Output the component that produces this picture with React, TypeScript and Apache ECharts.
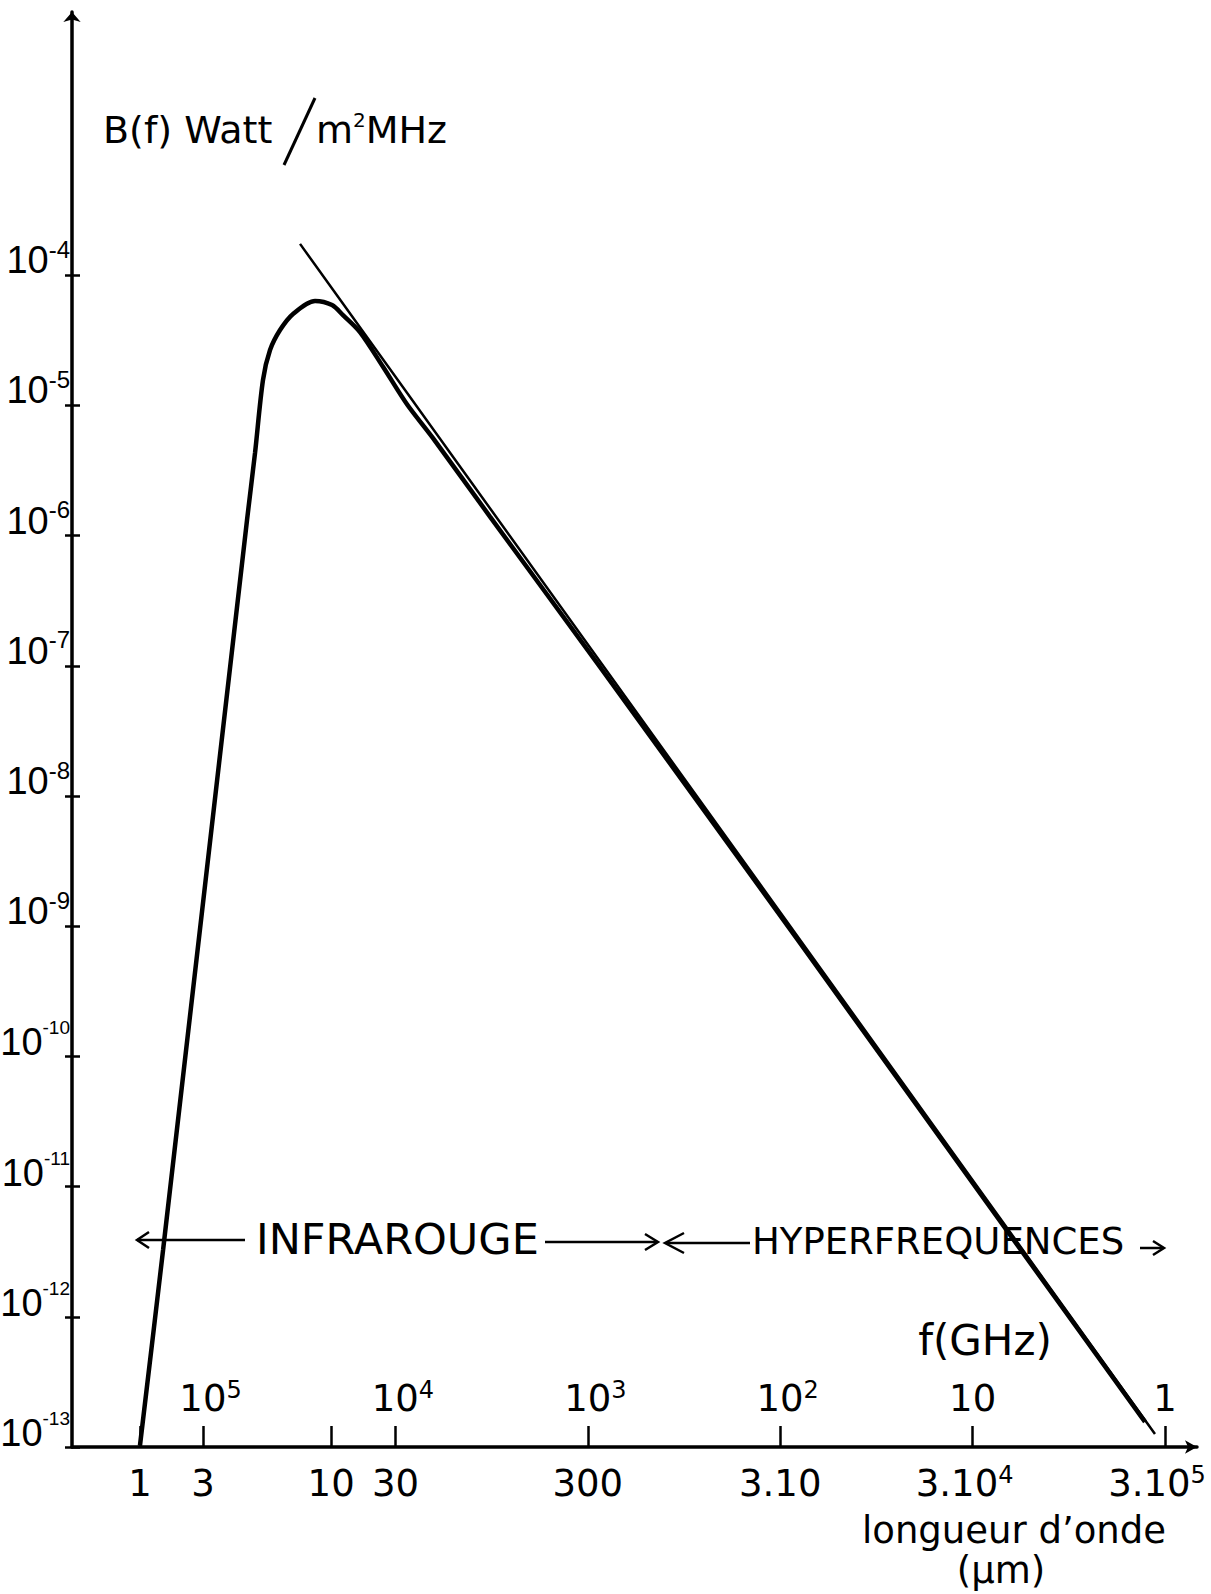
import React, { useEffect, useRef } from "react";
import * as echarts from "echarts";

// ---- data ----
// wavelength axis (µm): tick positions and their labels
const wavelengthTicks = [1.41, 3, 13.9, 30, 300, 3000, 30000, 300000];
const wavelengthLabels = ["1", "3", "10", "30", "300", "3.10", "3.10^4", "3.10^5"];
// frequency labels (GHz) written above the same axis
const freqTicks = [3, 30, 300, 3000, 30000, 300000];
const freqLabels = ["10^5", "10^4", "10^3", "10^2", "10", "1"];
// B(f) axis
const yTicks = [1e-13, 1e-12, 1e-11, 1e-10, 1e-9, 1e-8, 1e-7, 1e-6, 1e-5, 1e-4];
const yLabels = ["10^-13", "10^-12", "10^-11", "10^-10", "10^-9", "10^-8", "10^-7", "10^-6", "10^-5", "10^-4"];

// thick curve: spectrum B(f) versus wavelength
const spectrumLambda = [1.41, 1.86, 5.08, 5.59, 6.15, 6.69, 7.54, 8.81, 11.46, 14.05, 16.02, 19.63, 25.86, 34.45, 47.03, 93.0, 347, 3800, 41640, 236000];
const spectrumB = [1.02e-13, 3.26e-12, 1.32e-6, 4.31e-6, 1.57e-5, 2.66e-5, 3.79e-5, 5.04e-5, 6.34e-5, 5.9e-5, 4.94e-5, 3.66e-5, 1.98e-5, 1.02e-5, 5.6e-6, 1.4e-6, 9.8e-8, 7.43e-10, 5.44e-12, 1.56e-13];
// thin straight asymptote
const asymptoteLambda = [9.58, 35600, 266000];
const asymptoteB = [1.74e-4, 7.89e-12, 1.26e-13];

const FONT = "DejaVu Sans";
const YFONT = "Liberation Sans";

function findIndex(ticks: number[], v: number) {
  let best = 0;
  let bd = Infinity;
  ticks.forEach((t, i) => {
    const d = Math.abs(Math.log10(t) - Math.log10(v));
    if (d < bd) {
      bd = d;
      best = i;
    }
  });
  return best;
}

function toRich(label: string, main: string, sup: string) {
  const [a, b] = label.split("^");
  return b ? `{${main}|${a}}{${sup}|${b}}` : `{${main}|${a}}`;
}

export default function App() {
  const ref = useRef<HTMLDivElement>(null);

  useEffect(() => {
    document.body.style.margin = "0";
    if (!ref.current) return;
    const chart = echarts.init(ref.current, undefined, { renderer: "svg" });

    const black = "#000";
    const xRich = {
      b: { fontSize: 37, lineHeight: 40, fontFamily: FONT, color: black },
      bl: { fontSize: 37, lineHeight: 40, fontFamily: FONT, color: black, padding: [0, 0, 0, 15] },
      s: { fontSize: 24, lineHeight: 24, fontFamily: FONT, color: black, verticalAlign: "top" },
      sp: { fontSize: 24, lineHeight: 24, fontFamily: FONT, color: black, verticalAlign: "top", padding: [0, 16, 0, 0] },
    };
    const yRich = {
      b: { fontSize: 38, lineHeight: 38, fontFamily: YFONT, color: black, padding: [8, 0, 0, 0] },
      s: { fontSize: 24, lineHeight: 24, fontFamily: YFONT, color: black, verticalAlign: "top" },
      b2: { fontSize: 38, lineHeight: 38, fontFamily: YFONT, color: black, padding: [10, 0, 0, 0] },
      t: { fontSize: 19, lineHeight: 19, fontFamily: YFONT, color: black, verticalAlign: "top" },
    };

    const txt = (text: string, x: number, y: number, size: number, align = "left", extra: any = {}) => ({
      type: "text",
      x,
      y,
      style: {
        text,
        fill: black,
        fontSize: size,
        fontFamily: FONT,
        align,
        verticalAlign: "middle",
        textAlign: align,
        textVerticalAlign: "middle",
        ...extra,
      },
    });
    const ln = (x1: number, y1: number, x2: number, y2: number, w = 2.5) => ({
      type: "line",
      shape: { x1, y1, x2, y2 },
      style: { stroke: black, lineWidth: w },
    });
    const pl = (pts: number[][], w = 2.5) => ({
      type: "polyline",
      shape: { points: pts },
      style: { stroke: black, lineWidth: w, fill: null },
    });

    chart.setOption({
      animation: false,
      backgroundColor: "#fff",
      grid: { left: 72, right: 14, top: 12, bottom: 147, containLabel: false, outerBoundsMode: "none" },
      xAxis: [
        {
          type: "log",
          min: 0.6254,
          max: 439800,
          position: "bottom",
          axisLine: {
            show: true,
            onZero: false,
            lineStyle: { color: black, width: 3.5 },
            symbol: ["none", "arrow"],
            symbolSize: [10, 12],
          },
          axisTick: { show: true, inside: true, length: 21, lineStyle: { color: black, width: 2.5 }, customValues: wavelengthTicks },
          axisLabel: {
            customValues: wavelengthTicks,
            margin: 16,
            hideOverlap: false,
            fontFamily: FONT,
            color: black,
            formatter: (v: number) => toRich(wavelengthLabels[findIndex(wavelengthTicks, v)], "b", "sp"),
            rich: xRich,
          },
          splitLine: { show: false },
          minorTick: { show: false },
        },
        {
          type: "log",
          min: 0.6254,
          max: 439800,
          position: "bottom",
          offset: 0,
          axisLine: { show: false, onZero: false },
          axisTick: { show: false },
          axisLabel: {
            inside: true,
            customValues: freqTicks,
            margin: 29,
            verticalAlign: "bottom",
            hideOverlap: false,
            fontFamily: FONT,
            color: black,
            formatter: (v: number) => {
              const l = freqLabels[findIndex(freqTicks, v)];
              return l.includes("^") ? toRich(l, "bl", "s") : toRich(l, "b", "s");
            },
            rich: xRich,
          },
          splitLine: { show: false },
        },
      ],
      yAxis: [
        {
          type: "log",
          min: 1e-13,
          max: 0.01051,
          position: "left",
          axisLine: {
            show: true,
            onZero: false,
            lineStyle: { color: black, width: 3.5 },
            symbol: ["none", "arrow"],
            symbolSize: [13, 10],
          },
          axisTick: { show: true, inside: false, length: 7, lineStyle: { color: black, width: 2.5 }, customValues: yTicks },
          axisLabel: {
            customValues: yTicks,
            align: "right",
            margin: 2,
            verticalAlign: "bottom",
            hideOverlap: false,
            fontFamily: YFONT,
            color: black,
            formatter: (v: number) => {
              const l = yLabels[findIndex(yTicks, v)];
              const exp = l.split("^")[1] || "";
              return exp.length >= 3 ? toRich(l, "b2", "t") : toRich(l, "b", "s");
            },
            rich: yRich,
          },
          splitLine: { show: false },
        },
        {
          type: "log",
          min: 1e-13,
          max: 0.01051,
          position: "left",
          offset: 0,
          axisLine: { show: false, onZero: false },
          axisTick: { show: true, inside: true, length: 8, lineStyle: { color: black, width: 2.5 }, customValues: yTicks },
          axisLabel: { show: false },
          splitLine: { show: false },
        },
      ],
      series: [
        {
          type: "line",
          xAxisIndex: 0,
          yAxisIndex: 0,
          data: spectrumLambda.map((l, i) => [l, spectrumB[i]]),
          showSymbol: false,
          smooth: 0.3,
          lineStyle: { color: black, width: 4.5 },
          z: 3,
        },
        {
          type: "line",
          xAxisIndex: 0,
          yAxisIndex: 0,
          data: asymptoteLambda.map((l, i) => [l, asymptoteB[i]]),
          showSymbol: false,
          lineStyle: { color: black, width: 2.5 },
          z: 3,
        },
      ],
      graphic: [
        txt("B(f) Watt", 103, 130, 38),
        ln(284, 165, 315, 98, 3),
        {
          type: "text",
          x: 316,
          y: 130,
          style: {
            text: "{a|m}{s|2}{a|MHz}",
            fill: black,
            fontFamily: FONT,
            align: "left",
            verticalAlign: "middle",
            textAlign: "left",
            textVerticalAlign: "middle",
            rich: {
              a: { fontSize: 38, lineHeight: 40, fontFamily: FONT, fill: black },
              s: { fontSize: 20, lineHeight: 20, fontFamily: FONT, fill: black, verticalAlign: "top" },
            },
          },
        },
        txt("f(GHz)", 985, 1340, 42, "center"),
        txt("longueur d\u2019onde", 1014, 1530, 37, "center"),
        txt("(\u00b5m)", 1001, 1570, 37, "center"),
        txt("INFRAROUGE", 256, 1239, 43),
        txt("HYPERFREQUENCES", 752, 1241, 37),
        ln(137, 1240, 245, 1240),
        pl([[149, 1232], [137, 1240], [149, 1248]]),
        ln(545, 1242, 657, 1242),
        pl([[645, 1234], [658, 1242], [645, 1250]]),
        ln(667, 1243, 750, 1243),
        pl([[684, 1233], [665, 1243], [684, 1253]]),
        ln(1140, 1248, 1163, 1248),
        pl([[1153, 1241], [1164, 1248], [1153, 1255]]),
      ],
    });

    return () => chart.dispose();
  }, []);

  return <div ref={ref} style={{ width: 1211, height: 1594 }} />;
}
